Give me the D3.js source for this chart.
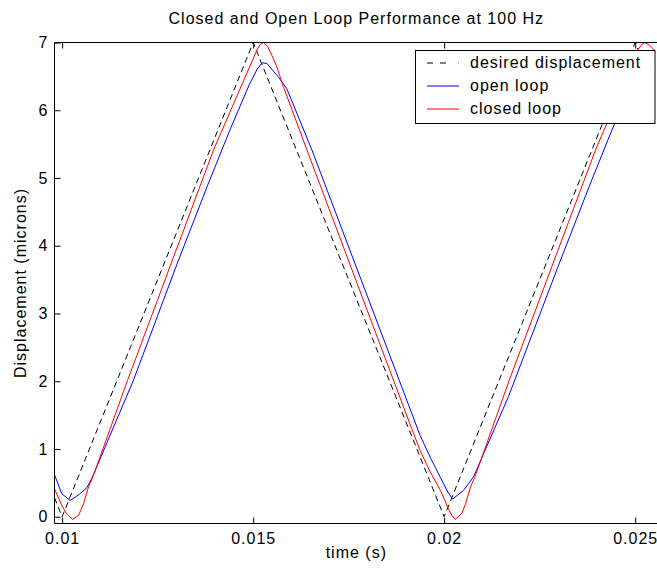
<!DOCTYPE html>
<html>
<head>
<meta charset="utf-8">
<script src="https://cdn.jsdelivr.net/npm/d3@7"></script>
<style>
  html, body { margin: 0; padding: 0; background: #fff; }
  svg text {
    font-family: "Liberation Sans", Arial, Helvetica, sans-serif;
    font-size: 16px;
    letter-spacing: 1px;
    fill: #000;
  }
</style>
</head>
<body>
<svg id="chart" width="657" height="572"></svg>
<script>
// Desired triangle-wave displacement (microns) at its turning points
const desiredTime = [0.0098, 0.0100, 0.0150, 0.0200, 0.0250, 0.02552];
const desiredDisp = [0.28, 0.00, 7.00, 0.00, 7.00, 6.27];

// Open-loop response
const openTime = [0.00980, 0.00999, 0.01021, 0.01045, 0.01065, 0.01078, 0.01187, 0.01300,
                  0.01380, 0.01440, 0.01490, 0.01510, 0.01523, 0.01536, 0.01566, 0.01588,
                  0.01654, 0.01800, 0.01937, 0.01965, 0.01990, 0.02008, 0.02022, 0.02051,
                  0.02077, 0.02168, 0.02300, 0.02380, 0.02440, 0.02490, 0.02510, 0.02523,
                  0.02536, 0.02552];
const openDisp = [0.62, 0.34, 0.24, 0.33, 0.43, 0.57, 2.02, 3.72,
                  4.88, 5.72, 6.38, 6.60, 6.70, 6.69, 6.49, 6.32,
                  5.41, 3.24, 1.20, 0.86, 0.58, 0.38, 0.26, 0.39,
                  0.59, 1.77, 3.72, 4.88, 5.72, 6.38, 6.60, 6.70,
                  6.69, 6.58];

// Closed-loop response
const closedTime = [0.00980, 0.00999, 0.01012, 0.01027, 0.01043, 0.01056, 0.01069, 0.01082,
                    0.01171, 0.01396, 0.01510, 0.01518, 0.01527, 0.01537, 0.01549, 0.01562,
                    0.01579, 0.01641, 0.01915, 0.01937, 0.01960, 0.01990, 0.02011, 0.02020,
                    0.02029, 0.02046, 0.02056, 0.02069, 0.02080, 0.02170, 0.02396, 0.02508,
                    0.02517, 0.02526, 0.02537, 0.02552];
const closedDisp = [0.41, 0.17, 0.04, -0.04, 0.02, 0.19, 0.44, 0.61,
                    2.01, 5.41, 6.89, 6.97, 7.00, 6.95, 6.81, 6.64,
                    6.35, 5.41, 1.30, 0.98, 0.70, 0.39, 0.12, 0.02,
                    -0.04, 0.05, 0.19, 0.44, 0.58, 2.01, 5.41, 6.90,
                    6.97, 7.00, 6.96, 6.88];

const xTicks = [0.01, 0.015, 0.02, 0.025];
const xTickLabels = ["0.01", "0.015", "0.02", "0.025"];
const yTicks = [0, 1, 2, 3, 4, 5, 6, 7];
const xDomain = [0.0098, 0.0256];
const yDomain = [-0.1, 7];

const seriesNames = ["desired displacement", "open loop", "closed loop"];
const seriesColors = ["#000000", "#0000ff", "#ff0000"];

const chartTitle = "Closed and Open Loop Performance at 100 Hz";
const xTitle = "time (s)";
const yTitle = "Displacement (microns)";

// ---- layout ----
const plot = { left: 54.5, right: 658.1, top: 42.5, bottom: 523.5 };

const svg = d3.select("#chart");
const x = d3.scaleLinear().domain(xDomain).range([plot.left, plot.right]);
const y = d3.scaleLinear().domain(yDomain).range([plot.bottom, plot.top]);

svg.append("rect").attr("width", 657).attr("height", 572).attr("fill", "#fff");

svg.append("defs").append("clipPath").attr("id", "plotClip")
  .append("rect")
  .attr("x", plot.left).attr("y", plot.top)
  .attr("width", plot.right - plot.left).attr("height", plot.bottom - plot.top);

// ---- series ----
const series = [
  { t: desiredTime, v: desiredDisp, color: seriesColors[0], dash: "6,4" },
  { t: openTime, v: openDisp, color: seriesColors[1], dash: null },
  { t: closedTime, v: closedDisp, color: seriesColors[2], dash: null }
];

const line = d3.line().x(d => x(d[0])).y(d => y(d[1]));
const gLines = svg.append("g").attr("clip-path", "url(#plotClip)");
series.forEach(s => {
  const pts = s.t.map((t, i) => [t, s.v[i]]);
  gLines.append("path")
    .datum(pts)
    .attr("d", line)
    .attr("fill", "none")
    .attr("stroke", s.color)
    .attr("stroke-width", 1)
    .attr("stroke-dasharray", s.dash);
});

// ---- axes ----
const tickLen = 6;
const fmt = d => xTickLabels[xTicks.indexOf(d)];

const gx = svg.append("g").attr("transform", `translate(0,${plot.bottom})`)
  .call(d3.axisBottom(x).tickValues(xTicks).tickFormat(fmt)
        .tickSize(-tickLen).tickSizeOuter(0).tickPadding(9));
const gxTop = svg.append("g").attr("transform", `translate(0,${plot.top})`)
  .call(d3.axisTop(x).tickValues(xTicks).tickFormat("")
        .tickSize(-tickLen).tickSizeOuter(0));
const gy = svg.append("g").attr("transform", `translate(${plot.left},0)`)
  .call(d3.axisLeft(y).tickValues(yTicks).tickFormat(d3.format("d"))
        .tickSize(-tickLen).tickSizeOuter(0).tickPadding(6));

[gx, gxTop, gy].forEach(g => {
  g.select(".domain").remove();
  g.selectAll(".tick line").attr("stroke", "#000").attr("stroke-width", 1);
  g.attr("font-family", null).attr("font-size", null);
});

// frame (left, top, bottom)
svg.append("path")
  .attr("d", `M${plot.right},${plot.top}H${plot.left}V${plot.bottom}H${plot.right}`)
  .attr("fill", "none").attr("stroke", "#000").attr("stroke-width", 1);

// ---- titles ----
const cx = (plot.left + plot.right) / 2;
svg.append("text").attr("x", cx).attr("y", 24)
  .attr("text-anchor", "middle").text(chartTitle);
svg.append("text").attr("x", cx).attr("y", 558)
  .attr("text-anchor", "middle").text(xTitle);
svg.append("text")
  .attr("transform", `translate(26,${(plot.top + plot.bottom) / 2}) rotate(-90)`)
  .attr("text-anchor", "middle").text(yTitle);

// ---- legend ----
const legend = svg.append("g");
legend.append("rect")
  .attr("x", 415.5).attr("y", 50.5).attr("width", 239.5).attr("height", 73)
  .attr("fill", "#fff").attr("stroke", "#000").attr("stroke-width", 1);
const legendDash = ["6,7,6,12.5,1", null, null];
seriesNames.forEach((name, i) => {
  const base = 67.5 + i * 23;
  legend.append("line")
    .attr("x1", 427).attr("x2", 459)
    .attr("y1", base - 4.5).attr("y2", base - 4.5)
    .attr("stroke", seriesColors[i]).attr("stroke-width", 1)
    .attr("stroke-dasharray", legendDash[i]);
  legend.append("text").attr("x", 470).attr("y", base).text(name);
});
</script>
</body>
</html>
